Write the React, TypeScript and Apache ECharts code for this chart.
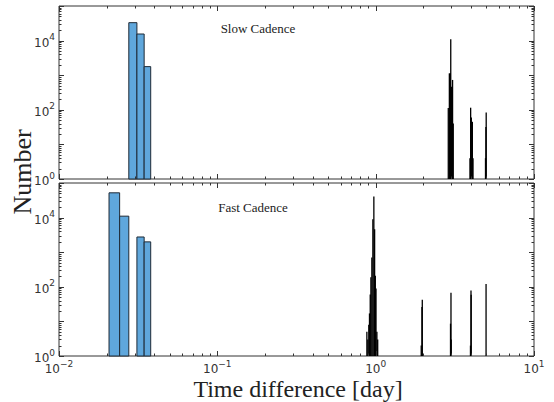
import React, { useEffect, useRef } from "react";
import * as echarts from "echarts";

const W = 554;
const H = 402;

// Histogram bin width (days)
const binWidth = 0.00345;

// Slow cadence: blue bars (bin edges in days, counts)
const slowBarLo = [0.0276, 0.03105, 0.0345];
const slowBarHi = [0.03105, 0.0345, 0.03795];
const slowBarCount = [33000, 15500, 1770];

// Fast cadence: blue bars
const fastBarLo = [0.0207, 0.02415, 0.03105, 0.0345];
const fastBarHi = [0.02415, 0.0276, 0.0345, 0.03795];
const fastBarCount = [52000, 11000, 2750, 1990];

// Slow cadence: narrow spikes (bin centre in days, counts)
const slowSpikeDay = [2.875, 2.92, 2.96, 2.98, 3.02, 3.06, 3.09, 3.94, 3.98, 4.02, 4.08, 4.12, 4.94, 4.97, 4.99];
const slowSpikeCount = [113, 1130, 1130, 11000, 465, 730, 40, 4, 115, 60, 45, 4, 4, 32, 83];

// Fast cadence: narrow spikes
const fastSpikeDay = [0.88, 0.892, 0.905, 0.914, 0.924, 0.933, 0.946, 0.96, 0.974, 0.985, 0.995, 1.005, 1.018, 1.03,
  1.94, 1.96, 1.97, 2.97, 2.99, 3.0, 3.97, 4.0, 4.01, 4.98];
const fastSpikeCount = [5, 3, 8, 17, 60, 190, 700, 9000, 41000, 4600, 210, 90, 5, 3,
  2, 26, 42, 8.6, 67, 3, 2, 78, 59, 120];

// Axis ranges and tick values
const xMin = 0.01;
const xMax = 10;
const yMin = 1;
const yMax = 100000;
const xMajor = [0.01, 0.1, 1, 10];
const yMajor = [1, 10, 100, 1000, 10000, 100000];

function minorsOf(majors: number[]) {
  const out: number[] = [];
  for (let i = 0; i < majors.length - 1; i++) {
    for (let k = 2; k <= 9; k++) out.push(majors[i] * k);
  }
  return out;
}

const BLUE = "#5fa7dc";
const EDGE = "#1e2a36";
const FRAME = "#333";
const SERIF = "'Liberation Serif', 'DejaVu Serif', serif";
const SANS = "'DejaVu Sans', sans-serif";

const supLabel = (v: number) => {
  const e = Math.round(Math.log10(v));
  const s = e < 0 ? "\u2212" + -e : String(e);
  return `{b|10}{s|${s}}`;
};

const rich = {
  b: { fontSize: 12, fontFamily: SANS, color: "#333", lineHeight: 16, verticalAlign: "bottom" },
  s: { fontSize: 9, fontFamily: SANS, color: "#333", lineHeight: 10, verticalAlign: "top" },
};

function barSeries(idx: number, lo: number[], hi: number[], cnt: number[]) {
  return {
    type: "custom",
    xAxisIndex: idx,
    yAxisIndex: idx,
    silent: true,
    z: 3,
    data: lo.map((l, i) => [l, hi[i], cnt[i]]),
    encode: { x: [0, 1], y: 2 },
    renderItem: (params: any, api: any) => {
      const p0 = api.coord([api.value(0), api.value(2)]);
      const p1 = api.coord([api.value(1), yMin]);
      return {
        type: "rect",
        shape: { x: p0[0], y: p0[1], width: p1[0] - p0[0], height: p1[1] - p0[1] },
        style: { fill: BLUE, stroke: EDGE, lineWidth: 1 },
      };
    },
  };
}

function spikeSeries(idx: number, day: number[], cnt: number[]) {
  return {
    type: "custom",
    xAxisIndex: idx,
    yAxisIndex: idx,
    silent: true,
    z: 3,
    data: day.map((d, i) => [d, cnt[i]]),
    encode: { x: 0, y: 1 },
    renderItem: (params: any, api: any) => {
      const d = api.value(0);
      const x0 = api.coord([d - binWidth / 2, yMin])[0];
      const x1 = api.coord([d + binWidth / 2, yMin])[0];
      const top = api.coord([d, api.value(1)])[1];
      const bot = api.coord([d, yMin])[1];
      const w = Math.max(x1 - x0, 1.3);
      const cx = (x0 + x1) / 2;
      return {
        type: "rect",
        shape: { x: cx - w / 2, y: top, width: w, height: bot - top },
        style: { fill: "#000" },
      };
    },
  };
}

function xTickSeries(idx: number) {
  const data = [
    ...xMajor.map((v) => [v, yMin, 1]),
    ...minorsOf(xMajor).map((v) => [v, yMin, 0]),
  ];
  return {
    type: "custom",
    xAxisIndex: idx,
    yAxisIndex: idx,
    silent: true,
    z: 10,
    data,
    encode: { x: 0, y: 1 },
    renderItem: (params: any, api: any) => {
      const cs = params.coordSys;
      const px = Math.round(api.coord([api.value(0), yMin])[0]) + 0.5;
      const len = api.value(2) ? 5 : 2.5;
      const st = { stroke: FRAME, lineWidth: 1 };
      return {
        type: "group",
        children: [
          { type: "line", shape: { x1: px, y1: cs.y + cs.height, x2: px, y2: cs.y + cs.height - len }, style: st },
          { type: "line", shape: { x1: px, y1: cs.y, x2: px, y2: cs.y + len }, style: st },
        ],
      };
    },
  };
}

function yTickSeries(idx: number) {
  const data = [
    ...yMajor.map((v) => [xMin, v, 1]),
    ...minorsOf(yMajor).map((v) => [xMin, v, 0]),
  ];
  return {
    type: "custom",
    xAxisIndex: idx,
    yAxisIndex: idx,
    silent: true,
    z: 10,
    data,
    encode: { x: 0, y: 1 },
    renderItem: (params: any, api: any) => {
      const cs = params.coordSys;
      const py = Math.round(api.coord([xMin, api.value(1)])[1]) + 0.5;
      const len = api.value(2) ? 5 : 2.5;
      const st = { stroke: FRAME, lineWidth: 1 };
      return {
        type: "group",
        children: [
          { type: "line", shape: { x1: cs.x, y1: py, x2: cs.x + len, y2: py }, style: st },
          { type: "line", shape: { x1: cs.x + cs.width, y1: py, x2: cs.x + cs.width - len, y2: py }, style: st },
        ],
      };
    },
  };
}

const gridBase = { left: 59, width: 475, height: 173, show: true, borderColor: FRAME, borderWidth: 1, backgroundColor: "transparent" };

function xAxisCfg(idx: number, labels: boolean) {
  return {
    type: "log",
    logBase: 10,
    gridIndex: idx,
    min: xMin,
    max: xMax,
    axisLine: { show: false },
    axisTick: { show: false },
    splitLine: { show: false },
    axisLabel: labels
      ? { show: true, formatter: supLabel, rich, margin: 3 }
      : { show: false },
  };
}

function yAxisCfg(idx: number) {
  return {
    type: "log",
    logBase: 10,
    gridIndex: idx,
    min: yMin,
    max: yMax,
    splitNumber: 5,
    axisLine: { show: false },
    axisTick: { show: false },
    splitLine: { show: false },
    axisLabel: {
      show: true,
      margin: 4,
      rich,
      formatter: (v: number) => {
        const e = Math.round(Math.log10(v));
        return e % 2 === 0 && e <= 4 ? supLabel(v) : "";
      },
    },
  };
}

const option = {
  animation: false,
  backgroundColor: "#fff",
  grid: [
    { ...gridBase, top: 6 },
    { ...gridBase, top: 183 },
  ],
  xAxis: [xAxisCfg(0, false), xAxisCfg(1, true)],
  yAxis: [yAxisCfg(0), yAxisCfg(1)],
  series: [
    barSeries(0, slowBarLo, slowBarHi, slowBarCount),
    spikeSeries(0, slowSpikeDay, slowSpikeCount),
    barSeries(1, fastBarLo, fastBarHi, fastBarCount),
    spikeSeries(1, fastSpikeDay, fastSpikeCount),
    xTickSeries(0),
    yTickSeries(0),
    xTickSeries(1),
    yTickSeries(1),
  ],
  graphic: [
    {
      type: "text",
      x: 258,
      y: 28.5,
      style: { text: "Slow Cadence", fontSize: 13, fontFamily: SERIF, fill: "#222", align: "center", verticalAlign: "middle" },
    },
    {
      type: "text",
      x: 253,
      y: 207,
      style: { text: "Fast Cadence", fontSize: 13, fontFamily: SERIF, fill: "#222", align: "center", verticalAlign: "middle" },
    },
    {
      type: "text",
      x: 22,
      y: 172,
      rotation: Math.PI / 2,
      style: { text: "Number", fontSize: 26, fontFamily: SERIF, fill: "#222", align: "center", verticalAlign: "middle" },
    },
    {
      type: "text",
      x: 298,
      y: 388.5,
      style: { text: "Time difference [day]", fontSize: 24, fontFamily: SERIF, fill: "#222", align: "center", verticalAlign: "middle" },
    },
  ],
};

export default function App() {
  const ref = useRef<HTMLDivElement>(null);
  useEffect(() => {
    const chart = echarts.init(ref.current!, null, { renderer: "svg", width: W, height: H });
    chart.setOption(option as any);
    return () => chart.dispose();
  }, []);
  return (
    <div
      ref={ref}
      style={{ position: "fixed", left: 0, top: 0, width: W, height: H, background: "#fff" }}
    />
  );
}
